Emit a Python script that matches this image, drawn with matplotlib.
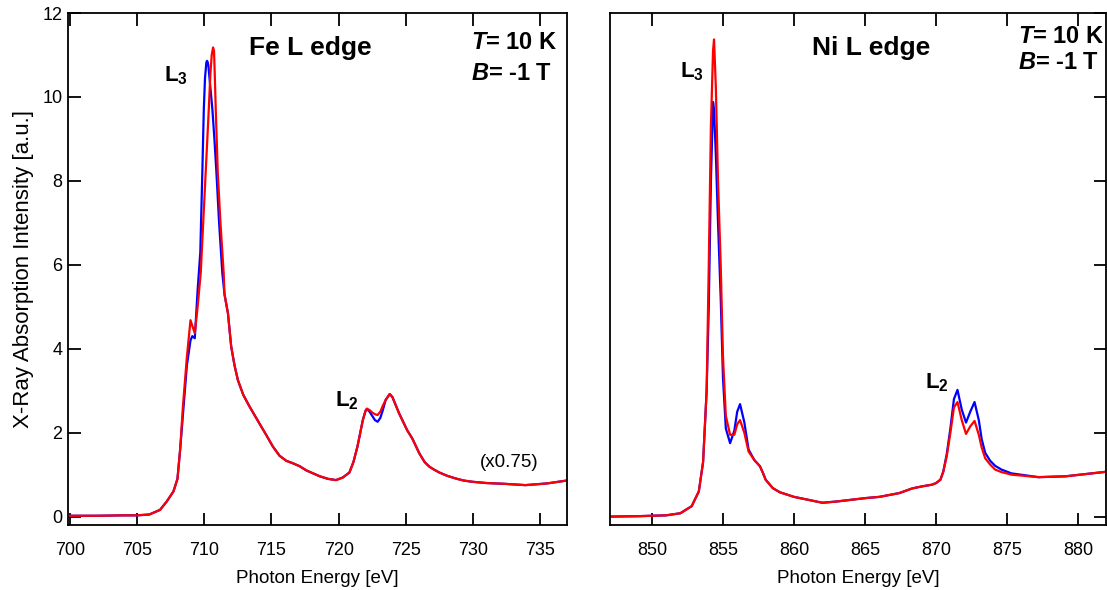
import matplotlib
matplotlib.use("Agg")
import matplotlib.pyplot as plt

plt.rcParams['font.family'] = ['Liberation Sans', 'DejaVu Sans']
plt.rcParams['mathtext.fontset'] = 'custom'
plt.rcParams['mathtext.rm'] = 'Liberation Sans:bold'
plt.rcParams['mathtext.bf'] = 'Liberation Sans:bold'
plt.rcParams['mathtext.it'] = 'Liberation Sans:italic:bold'

# Fe L edge
fe_tail_e = [711.5, 711.76, 712.0, 712.25, 712.5, 712.9, 713.37, 714.1, 714.6, 715.1, 715.6,
             716.1, 716.6, 717.1, 717.6, 718.1, 718.6, 719.2, 719.8, 720.3, 720.8, 721.1,
             721.4, 721.8, 722.0, 722.1]
fe_tail = [5.3, 4.84, 4.05, 3.6, 3.25, 2.9, 2.62, 2.22, 1.95, 1.67, 1.45,
           1.33, 1.27, 1.2, 1.1, 1.03, 0.96, 0.9, 0.87, 0.93, 1.05, 1.3,
           1.67, 2.3, 2.52, 2.57]
fe_end_e = [723.5, 723.8, 724.0, 724.5, 725.1, 725.5, 726.0, 726.4, 726.75, 727.1, 727.5,
            728.1, 728.7, 729.3, 729.95, 731.0, 732.4, 733.9, 735.5, 737.0]
fe_end = [2.78, 2.92, 2.85, 2.46, 2.06, 1.85, 1.51, 1.3, 1.19, 1.12, 1.05,
          0.97, 0.91, 0.86, 0.83, 0.8, 0.78, 0.75, 0.79, 0.86]
fe_start_e = [700.0, 702.0, 704.0, 705.0, 705.9, 706.7, 707.2, 707.7, 708.0, 708.2]
fe_start = [0.02, 0.02, 0.03, 0.03, 0.05, 0.16, 0.36, 0.60, 0.90, 1.6]

fe_peak_e_blue = [708.4, 708.7, 708.97, 709.1, 709.29, 709.5, 709.7, 709.85, 709.96, 710.05,
                  710.15, 710.2, 710.25, 710.3, 710.4, 710.5, 710.6, 710.75, 710.9, 711.1, 711.34]
fe_peak_blue = [2.4, 3.6, 4.2, 4.3, 4.25, 5.4, 6.3, 8.2, 9.7, 10.45,
                10.82, 10.86, 10.83, 10.75, 10.4, 10.05, 9.7, 9.0, 8.2, 7.0, 5.8]
fe_peak_e_red = [708.4, 708.7, 708.97, 709.1, 709.29, 709.5, 709.73, 709.9, 710.1, 710.33,
                 710.45, 710.55, 710.65, 710.72, 710.78, 710.85, 711.0, 711.2, 711.44]
fe_peak_red = [2.6, 3.8, 4.68, 4.55, 4.37, 5.0, 5.8, 6.9, 8.2, 9.7,
               10.55, 11.0, 11.18, 11.1, 10.5, 9.7, 8.2, 7.0, 5.8]
fe_l2_e = [722.3, 722.5, 722.7, 722.9, 723.1, 723.3]
fe_l2_blue = [2.5, 2.4, 2.3, 2.26, 2.35, 2.55]
fe_l2_red = [2.54, 2.48, 2.44, 2.42, 2.5, 2.65]

fe_e_blue = fe_start_e + fe_peak_e_blue + fe_tail_e + fe_l2_e + fe_end_e
fe_blue = fe_start + fe_peak_blue + fe_tail + fe_l2_blue + fe_end
fe_e_red = fe_start_e + fe_peak_e_red + fe_tail_e + fe_l2_e + fe_end_e
fe_red = fe_start + fe_peak_red + fe_tail + fe_l2_red + fe_end

# Ni L edge
ni_e = [847.0, 849.0, 851.0, 852.0, 852.8, 853.3, 853.6, 853.85, 854.0, 854.15, 854.3, 854.37,
        854.5, 854.65, 854.84, 855.0, 855.2, 855.5, 855.8, 856.0, 856.2, 856.5, 856.8, 857.2,
        857.6, 857.8, 858.0, 858.5, 859.0, 860.0, 861.0, 862.0, 863.0, 864.0, 865.0, 866.0,
        867.4, 868.3, 869.0, 869.7, 870.0, 870.3, 870.5, 870.75, 871.0, 871.25, 871.5, 871.8,
        872.1, 872.4, 872.7, 873.0, 873.2, 873.45, 873.8, 874.15, 874.6, 875.3, 877.2, 879.1,
        882.0]
ni_blue = [0.0, 0.01, 0.03, 0.08, 0.25, 0.6, 1.3, 3.0, 5.0, 8.0, 9.88, 9.7,
           8.6, 7.0, 5.2, 3.3, 2.1, 1.75, 2.05, 2.5, 2.68, 2.25, 1.6, 1.35,
           1.2, 1.05, 0.88, 0.68, 0.58, 0.47, 0.40, 0.33, 0.36, 0.40, 0.44, 0.47,
           0.56, 0.67, 0.72, 0.76, 0.80, 0.88, 1.07, 1.5, 2.1, 2.8, 3.02, 2.55,
           2.24, 2.5, 2.73, 2.3, 1.85, 1.52, 1.33, 1.21, 1.12, 1.03, 0.94, 0.96,
           1.07]
ni_red = [0.0, 0.01, 0.03, 0.08, 0.25, 0.6, 1.3, 3.0, 6.0, 9.3, 11.1, 11.37,
          10.2, 8.0, 6.0, 3.8, 2.4, 1.95, 1.95, 2.2, 2.30, 2.0, 1.55, 1.35,
          1.2, 1.05, 0.88, 0.68, 0.58, 0.47, 0.40, 0.33, 0.36, 0.40, 0.44, 0.47,
          0.56, 0.67, 0.72, 0.76, 0.80, 0.88, 1.07, 1.45, 2.0, 2.6, 2.73, 2.3,
          1.97, 2.15, 2.28, 1.95, 1.65, 1.39, 1.24, 1.12, 1.06, 1.00, 0.94, 0.96,
          1.07]

W, H = 1107, 590
fig = plt.figure(figsize=(W / 100, H / 100), dpi=100)
ax1 = fig.add_axes([68 / W, (H - 525) / H, 499 / W, 512 / H])
ax2 = fig.add_axes([610 / W, (H - 525) / H, 496 / W, 512 / H])

ax1.plot(fe_e_blue, fe_blue, color='#0000ff', lw=1.6)
ax1.plot(fe_e_red, fe_red, color='#ff0000', lw=1.6)
ax2.plot(ni_e, ni_blue, color='#0000ff', lw=1.6)
ax2.plot(ni_e, ni_red, color='#ff0000', lw=1.6)

ax1.set_xlim(699.85, 737)
ax2.set_xlim(847.05, 881.95)
for ax in (ax1, ax2):
    ax.set_ylim(-0.2, 12)
    ax.set_yticks(range(0, 13, 2))
    ax.set_xlabel("Photon Energy [eV]", fontsize=13.5, labelpad=8)
    for s in ax.spines.values():
        s.set_linewidth(1.3)
    ax.tick_params(axis='x', direction='in', top=True, bottom=True, length=9, width=1.3,
                   labelsize=13, pad=12)
    ax.tick_params(axis='y', direction='in', length=9, width=1.3, labelsize=13, pad=4)
ax1.set_xticks(range(700, 736, 5))
ax2.set_xticks(range(850, 881, 5))
ax1.tick_params(axis='y', left=True, right=False)
ax2.tick_params(axis='y', left=False, right=True, labelleft=False, labelright=False)
ax1.set_ylabel("X-Ray Absorption Intensity [a.u.]", fontsize=16, labelpad=6)

ax1.text(0.485, 0.932, "Fe L edge", transform=ax1.transAxes, fontsize=19,
         fontweight='bold', ha='center', va='center')
ax2.text(0.526, 0.932, "Ni L edge", transform=ax2.transAxes, fontsize=19,
         fontweight='bold', ha='center', va='center')

ax1.text(0.808, 0.943, r"$T$= 10 K", transform=ax1.transAxes, fontsize=17,
         fontweight='bold', ha='left', va='center')
ax1.text(0.808, 0.881, r"$B$= -1 T", transform=ax1.transAxes, fontsize=17,
         fontweight='bold', ha='left', va='center')
ax2.text(0.823, 0.955, r"$T$= 10 K", transform=ax2.transAxes, fontsize=17,
         fontweight='bold', ha='left', va='center')
ax2.text(0.823, 0.904, r"$B$= -1 T", transform=ax2.transAxes, fontsize=17,
         fontweight='bold', ha='left', va='center')

ax1.text(706.98, 10.5, r"L$_{3}$", fontsize=16, fontweight='bold', ha='left', va='center')
ax1.text(719.76, 2.75, r"L$_{2}$", fontsize=16, fontweight='bold', ha='left', va='center')
ax2.text(851.96, 10.6, r"L$_{3}$", fontsize=16, fontweight='bold', ha='left', va='center')
ax2.text(869.2, 3.2, r"L$_{2}$", fontsize=16, fontweight='bold', ha='left', va='center')
ax1.text(730.5, 1.28, "(x0.75)", fontsize=13.5, ha='left', va='center')

fig.savefig("out.png", dpi=100)
